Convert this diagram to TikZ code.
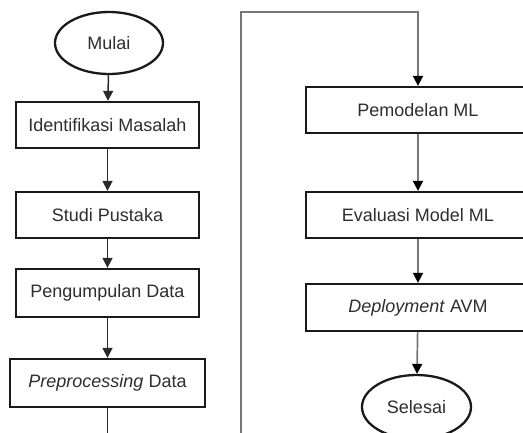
\documentclass[tikz,border=0pt]{standalone}
\usepackage{fontspec}
\setmainfont{Liberation Sans}
\usetikzlibrary{arrows.meta,shapes.geometric}
\definecolor{txt}{HTML}{2E2E2E}
\definecolor{edge}{HTML}{1A1A1A}
\definecolor{lconn}{HTML}{2A2A2A}
\definecolor{rconn}{HTML}{777777}
\tikzset{
  procbox/.style={draw=edge, line width=2.3pt, fill=white, rectangle, inner sep=0pt,
    minimum width=183pt, minimum height=46pt, text=txt, font=\fontsize{18}{20}\selectfont},
  termnode/.style={draw=edge, line width=2.3pt, fill=white, ellipse, inner sep=0pt,
    minimum width=108pt, minimum height=62pt, text=txt, font=\fontsize{18}{20}\selectfont},
  larrow/.style={draw=lconn, line width=1.5pt, -{Triangle[width=10pt,length=10pt]}},
  rarrow/.style={draw=rconn, line width=1.7pt, -{Triangle[width=10pt,length=10pt,color=black]}},
}
\begin{document}
\begin{tikzpicture}[x=1pt,y=-1pt]
\useasboundingbox (0,0) rectangle (523,432);
\clip (0,0) rectangle (523,432);
% left column
\node[termnode] (mulai) at (109,43) {Mulai};
\node[procbox] (ident) at (107.5,125) {Identifikasi Masalah};
\node[procbox] (studi) at (107.5,215) {Studi Pustaka};
\node[procbox, minimum height=48pt] (kumpul) at (107.5,293) {Pengumpulan Data};
\node[procbox, minimum width=195pt, minimum height=48pt] (prep) at (107.5,383) {\textit{Preprocessing} Data};
% right column
\node[procbox, minimum width=224pt] (model) at (418,110) {Pemodelan ML};
\node[procbox, minimum width=224pt] (eval) at (418,215) {Evaluasi Model ML};
\node[procbox, minimum width=224pt, minimum height=47pt] (deploy) at (418,307.5) {\textit{Deployment} AVM};
\node[termnode, minimum width=109pt, minimum height=64pt] (selesai) at (416.5,407) {Selesai};
% coordinates
\coordinate (lbot) at (107.5,445);
\coordinate (loopB) at (241,445);
\coordinate (loopT) at (241,12);
% connectors
\draw[larrow] (mulai) -- (ident);
\draw[larrow] (ident) -- (studi);
\draw[larrow] (studi) -- (kumpul);
\draw[larrow] (kumpul) -- (prep);
\draw[draw=lconn, line width=1.5pt] (prep) -- (lbot);
\draw[rarrow] (loopB) -- (loopT) -| (model.north);
\draw[rarrow] (model) -- (eval);
\draw[rarrow] (eval) -- (deploy);
\draw[rarrow] (deploy) -- (selesai);
\end{tikzpicture}
\end{document}
